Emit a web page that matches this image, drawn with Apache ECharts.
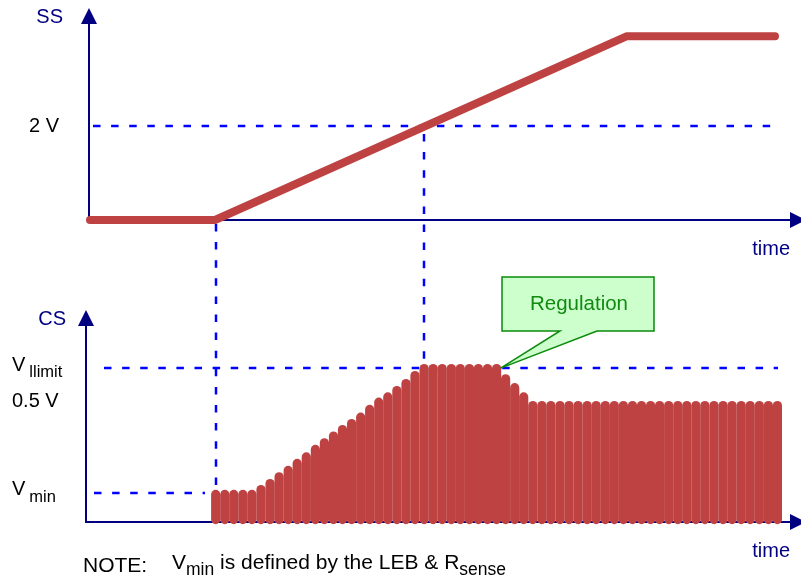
<!DOCTYPE html>
<html><head><meta charset="utf-8">
<script src="https://cdn.jsdelivr.net/npm/echarts@6/dist/echarts.min.js"></script>
<style>html,body{margin:0;padding:0;background:#fff}#c{width:801px;height:582px}</style>
</head><body><div id="c"></div>
<script>
// ---- data (time in arbitrary units, voltages in V) ----
const ssTime = [1, 126, 538, 686];
const ssVolts = [0, 0, 3.91, 3.91];
const ssRef = 2;
const ssRefSpan = [4, 686];

const pulseTime = [126.7,135.8,144.8,153.9,162.9,172.0,181.1,190.1,199.2,208.2,
  217.3,226.4,235.4,244.5,253.5,262.6,271.7,280.7,289.8,298.8,
  307.9,317.0,326.0,335.1,344.1,353.2,362.3,371.3,380.4,389.4,
  398.5,407.6,416.6,425.7,434.7,443.8,452.9,461.9,471.0,480.0,
  489.1,498.2,507.2,516.3,525.3,534.4,543.5,552.5,561.6,570.6,
  579.7,588.8,597.8,606.9,615.9,625.0,634.1,643.1,652.2,661.2,
  670.3,679.4,688.4];
const pulsePeak = [0.114,0.114,0.114,0.114,0.114,0.134,0.159,0.187,0.213,0.242,
  0.269,0.300,0.327,0.355,0.382,0.407,0.433,0.465,0.495,0.517,
  0.543,0.572,0.605,0.634,0.634,0.634,0.634,0.634,0.634,0.634,
  0.634,0.634,0.592,0.555,0.517,0.481,0.481,0.481,0.481,0.481,
  0.481,0.481,0.481,0.481,0.481,0.481,0.481,0.481,0.481,0.481,
  0.481,0.481,0.481,0.481,0.481,0.481,0.481,0.481,0.481,0.481,
  0.481,0.481,0.481];
const pulseBase = 0.01;

const vMin = 0.12, vHalf = 0.5, vLimit = 0.636;
const csLabelValues = [vMin, vHalf, vLimit];
const csLabelTexts = ['{v|V}{s|min}', '{n|0.5 V}', '{v|V}{s|llimit}'];
const vLimitSpan = [15, 689];
const vMinSpan = [5, 116];
const startTime = 127;   // soft start begins
const crossTime = 335;   // SS reaches 2 V

// ---- styles ----
const FONT = "'Liberation Sans', Arial, sans-serif";
const NAVY = '#000080';
const RED = '#BE4242';
const BLUE = '#0000FF';
const DASH = [7.5, 10.6];

const chart = echarts.init(document.getElementById('c'), null, {renderer: 'canvas'});

function axisX(gi, min, max) {
  return {gridIndex: gi, type: 'value', min: min, max: max,
    axisLine: {show: true, onZero: false, symbol: ['none', 'triangle'], symbolSize: [16, 16],
      lineStyle: {color: NAVY, width: 2}},
    axisTick: {show: false}, axisLabel: {show: false}, splitLine: {show: false}};
}
function axisY(gi, min, max, label) {
  return {gridIndex: gi, type: 'value', min: min, max: max,
    axisLine: {show: true, onZero: false, symbol: ['none', 'triangle'], symbolSize: [16, 16],
      lineStyle: {color: NAVY, width: 2}},
    axisTick: {show: false}, splitLine: {show: false}, axisLabel: label};
}
function dashSeries(gi, span, v) {
  return {type: 'line', xAxisIndex: gi, yAxisIndex: gi, symbol: 'none', silent: true, z: 1,
    data: [[span[0], v], [span[1], v]],
    lineStyle: {color: BLUE, width: 2.5, type: DASH}};
}

const option = {
  animation: false,
  backgroundColor: '#fff',
  grid: [
    {left: 89, top: 16, right: 3, height: 204},
    {left: 86, top: 318, right: 3, height: 204}
  ],
  xAxis: [axisX(0, 0, 709), axisX(1, -3, 709)],
  yAxis: [
    axisY(0, 0, 4.34, {customValues: [ssRef], formatter: function () { return '2 V'; },
      margin: 30, color: '#000', fontSize: 20, fontFamily: FONT}),
    axisY(1, 0, 0.843, {customValues: csLabelValues,
      formatter: function (val) {
        for (let i = 0; i < csLabelValues.length; i++) {
          if (Math.abs(csLabelValues[i] - val) < 1e-6) return csLabelTexts[i];
        }
        return '';
      },
      align: 'left', margin: 74, color: '#000', fontFamily: FONT,
      rich: {
        v: {fontSize: 20, fontFamily: FONT, color: '#000', lineHeight: 26, verticalAlign: 'top'},
        s: {fontSize: 16.5, fontFamily: FONT, color: '#000', lineHeight: 16, verticalAlign: 'bottom', padding: [0, 0, 0, 4]},
        n: {fontSize: 20, fontFamily: FONT, color: '#000'}
      }})
  ],
  series: [
    dashSeries(0, ssRefSpan, ssRef),
    {type: 'line', xAxisIndex: 0, yAxisIndex: 0, symbol: 'none', z: 3,
      data: ssTime.map(function (t, i) { return [t, ssVolts[i]]; }),
      lineStyle: {color: RED, width: 8, cap: 'round', join: 'round'}},
    dashSeries(1, vLimitSpan, vLimit),
    dashSeries(1, vMinSpan, vMin),
    {type: 'custom', xAxisIndex: 1, yAxisIndex: 1, z: 3,
      data: pulseTime.map(function (t, i) { return [t, pulsePeak[i]]; }),
      renderItem: function (params, api) {
        const p0 = api.coord([api.value(0), pulseBase]);
        const p1 = api.coord([api.value(0), api.value(1)]);
        return {type: 'line', shape: {x1: p0[0], y1: p0[1], x2: p1[0], y2: p1[1]},
          style: {stroke: RED, lineWidth: 9.2, lineCap: 'round'}};
      }}
  ]
};
chart.setOption(option);

// connectors between the two panels, placed through the axes' own scales
const a0 = chart.convertToPixel({gridIndex: 0}, [startTime, 0]);
const a1 = chart.convertToPixel({gridIndex: 1}, [startTime, vMin]);
const b0 = chart.convertToPixel({gridIndex: 0}, [crossTime, ssRef]);
const b1 = chart.convertToPixel({gridIndex: 1}, [crossTime, vLimit]);
const tip = chart.convertToPixel({gridIndex: 1}, [pulseTime[31] + 4, vLimit]);

const dashStyle = {stroke: BLUE, lineWidth: 2.5, lineDash: DASH};
chart.setOption({
  graphic: [
    {type: 'line', z: 1, silent: true, shape: {x1: a0[0], y1: a0[1] + 4, x2: a1[0], y2: a1[1]}, style: dashStyle},
    {type: 'line', z: 1, silent: true, shape: {x1: b0[0], y1: b0[1] + 8, x2: b1[0], y2: b1[1]}, style: dashStyle},
    {type: 'polygon', z: 10, shape: {points: [[502, 277], [654, 277], [654, 331], [597, 331], [tip[0], tip[1]], [560, 331], [502, 331]]},
      style: {fill: '#CCFFCC', stroke: '#0A8A0A', lineWidth: 1.5}},
    {type: 'text', z: 11, x: 579, y: 304, style: {text: 'Regulation', font: '20.5px ' + FONT, fill: '#108A10', textAlign: 'center', textVerticalAlign: 'middle'}},
    {type: 'text', x: 63, y: 17, style: {text: 'SS', font: '20px ' + FONT, fill: NAVY, textAlign: 'right', textVerticalAlign: 'middle'}},
    {type: 'text', x: 66, y: 319, style: {text: 'CS', font: '20px ' + FONT, fill: NAVY, textAlign: 'right', textVerticalAlign: 'middle'}},
    {type: 'text', x: 790, y: 249, style: {text: 'time', font: '20px ' + FONT, fill: NAVY, textAlign: 'right', textVerticalAlign: 'middle'}},
    {type: 'text', x: 790, y: 551, style: {text: 'time', font: '20px ' + FONT, fill: NAVY, textAlign: 'right', textVerticalAlign: 'middle'}},
    {type: 'text', x: 83, y: 566, style: {text: 'NOTE:', font: '21px ' + FONT, fill: '#000', textAlign: 'left', textVerticalAlign: 'middle'}},
    {type: 'text', x: 172, y: 566, style: {
      text: '{v|V}{s|min}{v| is defined by the LEB & R}{s|sense}',
      textAlign: 'left', textVerticalAlign: 'middle',
      rich: {
        v: {fontSize: 21, fontFamily: FONT, fill: '#000', lineHeight: 26, verticalAlign: 'top'},
        s: {fontSize: 17.5, fontFamily: FONT, fill: '#000', lineHeight: 16, verticalAlign: 'bottom'}
      }}}
  ]
});
</script>
</body></html>
